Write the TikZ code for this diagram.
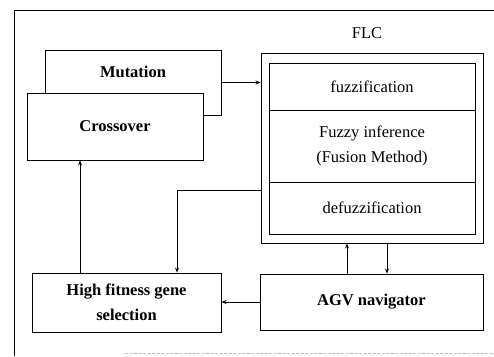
\documentclass[tikz,border=0pt]{standalone}
\usepackage{fontspec}
\setmainfont{Liberation Serif}
\usetikzlibrary{arrows.meta}
\begin{document}
\begin{tikzpicture}[x=1pt,y=-1pt,
  box/.style={draw=black,line width=0.9pt,fill=white,inner sep=0pt,align=center,
    font=\fontsize{16.5}{25}\selectfont},
  bbox/.style={box,font=\fontsize{16.5}{25}\selectfont\bfseries},
  conn/.style={line width=0.8pt},
  arr/.style={conn,-{Stealth[length=5pt,width=4pt]}},
  lbl/.style={font=\fontsize{16.5}{25}\selectfont,inner sep=0pt}]
\useasboundingbox (0,0) rectangle (494,356);
% outer frame (partly visible)
\draw[line width=0.9pt] (494,10) -- (14,10) -- (14,356);
\draw[gray!50,line width=0.6pt,dash pattern=on 3pt off 1.5pt] (125,353) -- (494,353);
% GA boxes
\node[bbox,minimum width=176pt,minimum height=65pt,text depth=22pt] (mut) at (133,82.5) {Mutation};
\node[bbox,minimum width=176pt,minimum height=67pt] (cross) at (115,126.5) {Crossover};
% FLC
\node[lbl] (flclbl) at (367,33) {FLC};
\node[box,minimum width=222pt,minimum height=190pt] (flc) at (372,148) {};
\node[box,minimum width=206pt,minimum height=47pt] (fuzz) at (372,86.5) {fuzzification};
\node[box,minimum width=206pt,minimum height=72pt] (inf) at (372,146) {Fuzzy inference\\(Fusion Method)};
\node[box,minimum width=206pt,minimum height=52pt] (defuzz) at (372,208) {defuzzification};
% bottom boxes
\node[bbox,minimum width=189pt,minimum height=59pt] (hf) at (126.5,302.5) {High fitness gene\\selection};
\node[bbox,minimum width=223pt,minimum height=56pt] (agv) at (371.5,302) {AGV navigator};
% helper coordinates
\coordinate (c1) at (177,190);
\coordinate (c2) at (347,0);
\coordinate (c3) at (387,0);
\coordinate (c4) at (80,0);
% connectors
\draw[arr] (mut.east) -- (mut.east -| flc.west);
\draw[arr] (flc.west |- c1) -| (hf.north -| c1);
\draw[arr] (agv.west) -- (agv.west -| hf.east);
\draw[arr] (agv.north -| c2) -- (flc.south -| c2);
\draw[arr] (flc.south -| c3) -- (agv.north -| c3);
\draw[arr] (hf.north -| c4) -- (cross.south -| c4);
\end{tikzpicture}
\end{document}
